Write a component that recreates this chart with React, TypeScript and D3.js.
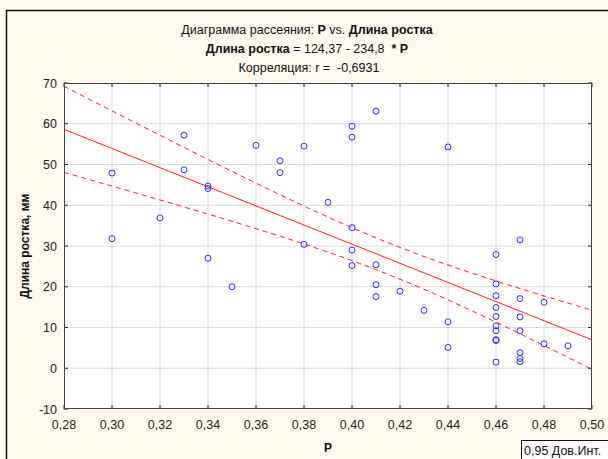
import React from "react"
import * as d3 from "d3"

// P values (x) and shoot length, mm (y)
const pValues = [
  0.30, 0.30, 0.32, 0.33, 0.33, 0.34, 0.34, 0.34, 0.35, 0.36, 0.37, 0.37, 0.38, 0.38, 0.39,
  0.40, 0.40, 0.40, 0.40, 0.40, 0.41, 0.41, 0.41, 0.41, 0.42, 0.43, 0.44, 0.44, 0.44,
  0.46, 0.46, 0.46, 0.46, 0.46, 0.46, 0.46, 0.46, 0.46, 0.46,
  0.47, 0.47, 0.47, 0.47, 0.47, 0.47, 0.47, 0.48, 0.48, 0.49,
]
const lengths = [
  47.9, 31.8, 36.9, 57.2, 48.7, 44.7, 44.1, 27.0, 20.0, 54.7, 50.9, 48.0, 54.5, 30.4, 40.7,
  59.4, 56.7, 34.5, 29.0, 25.2, 63.1, 25.4, 20.5, 17.6, 18.9, 14.2, 54.3, 11.4, 5.1,
  27.9, 20.7, 17.8, 14.9, 12.7, 10.4, 9.2, 7.0, 6.8, 1.5,
  31.5, 17.1, 12.6, 9.2, 3.8, 2.4, 1.6, 16.2, 6.0, 5.5,
]

const xTicks = [0.28, 0.3, 0.32, 0.34, 0.36, 0.38, 0.4, 0.42, 0.44, 0.46, 0.48, 0.5]
const yTicks = [-10, 0, 10, 20, 30, 40, 50, 60, 70]

// regression as printed in the title
const intercept = 124.37
const slope = -234.8

const W = 608
const H = 459
const plot = { left: 64, right: 592, top: 83, bottom: 409 }
const font = "'Liberation Sans', Arial, sans-serif"
const comma = (v: number, digits: number) => v.toFixed(digits).replace(".", ",")

export default function App() {
  const x = d3.scaleLinear().domain([0.28, 0.5]).range([plot.left, plot.right])
  const y = d3.scaleLinear().domain([-10, 70]).range([plot.bottom, plot.top])

  // 95% confidence band of the fitted mean
  const n = pValues.length
  const xm = d3.mean(pValues) as number
  const ym = d3.mean(lengths) as number
  const sxx = d3.sum(pValues, (v) => (v - xm) ** 2)
  const sxy = d3.sum(pValues, (v, i) => (v - xm) * (lengths[i] - ym))
  const b = sxy / sxx
  const a = ym - b * xm
  const sse = d3.sum(pValues, (v, i) => (lengths[i] - (a + b * v)) ** 2)
  const s = Math.sqrt(sse / (n - 2))
  const t = 2.012
  const grid = d3.range(0, 101).map((i) => 0.28 + (i / 100) * 0.22)
  const fit = (v: number) => intercept + slope * v
  const half = (v: number) => t * s * Math.sqrt(1 / n + (v - xm) ** 2 / sxx)

  const fitPath = d3.line<number>().x((v) => x(v)).y((v) => y(fit(v)))(grid) as string
  const upperPath = d3.line<number>().x((v) => x(v)).y((v) => y(fit(v) + half(v)))(grid) as string
  const lowerPath = d3.line<number>().x((v) => x(v)).y((v) => y(fit(v) - half(v)))(grid) as string

  const midX = (plot.left + plot.right) / 2
  const midY = (plot.top + plot.bottom) / 2

  return (
    <svg
      width={W}
      height={H}
      style={{ position: "absolute", left: 0, top: 0, fontFamily: font }}
    >
      <rect width={W} height={H} fill="#fff9ee" />
      <path d={`M6.5,${H} V10.5 H${W}`} fill="none" stroke="#111" strokeWidth={1.5} />

      {/* titles */}
      <text x={307} y={34} textAnchor="middle" fontSize={12.5} fill="#111" style={{ whiteSpace: "pre" }}>
        Диаграмма рассеяния: <tspan fontWeight="bold">P</tspan> vs. <tspan fontWeight="bold">Длина ростка</tspan>
      </text>
      <text x={307} y={53} textAnchor="middle" fontSize={12.5} fill="#111" style={{ whiteSpace: "pre" }}>
        <tspan fontWeight="bold">Длина ростка</tspan>
        {" = 124,37 - 234,8  "}
        <tspan fontWeight="bold">* P</tspan>
      </text>
      <text x={309} y={72} textAnchor="middle" fontSize={12.5} fill="#111" style={{ whiteSpace: "pre" }}>
        {"Корреляция: r =  -0,6931"}
      </text>

      {/* plot area */}
      <rect
        x={plot.left}
        y={plot.top}
        width={plot.right - plot.left}
        height={plot.bottom - plot.top}
        fill="#fff"
      />
      {xTicks.slice(1, -1).map((v) => (
        <line key={"gx" + v} x1={x(v)} x2={x(v)} y1={plot.top} y2={plot.bottom} stroke="#dadada" />
      ))}
      {yTicks.slice(1, -1).map((v) => (
        <line key={"gy" + v} x1={plot.left} x2={plot.right} y1={y(v)} y2={y(v)} stroke="#dadada" />
      ))}

      {/* tick marks inside the frame */}
      {xTicks.map((v) => (
        <g key={"tx" + v} stroke="#222">
          <line x1={x(v)} x2={x(v)} y1={plot.bottom} y2={plot.bottom - 4} />
          <line x1={x(v)} x2={x(v)} y1={plot.top} y2={plot.top + 4} />
        </g>
      ))}
      {yTicks.map((v) => (
        <g key={"ty" + v} stroke="#222">
          <line x1={plot.left} x2={plot.left + 4} y1={y(v)} y2={y(v)} />
          <line x1={plot.right} x2={plot.right - 4} y1={y(v)} y2={y(v)} />
        </g>
      ))}

      {/* fit and confidence band */}
      <path d={fitPath} fill="none" stroke="#ff1a1a" strokeWidth={1} />
      <path d={upperPath} fill="none" stroke="#ff1a1a" strokeWidth={1} strokeDasharray="5,4" />
      <path d={lowerPath} fill="none" stroke="#ff1a1a" strokeWidth={1} strokeDasharray="5,4" />

      {/* points */}
      {pValues.map((v, i) => (
        <circle key={i} cx={x(v)} cy={y(lengths[i])} r={3} fill="none" stroke="#2b2bff" strokeWidth={1} />
      ))}

      <rect
        x={plot.left + 0.5}
        y={plot.top + 0.5}
        width={plot.right - plot.left - 1}
        height={plot.bottom - plot.top - 1}
        fill="none"
        stroke="#444"
      />

      {/* tick labels */}
      {xTicks.map((v) => (
        <text key={"lx" + v} x={x(v)} y={429} textAnchor="middle" fontSize={12.5} fill="#222">
          {comma(v, 2)}
        </text>
      ))}
      {yTicks.map((v) => (
        <text key={"ly" + v} x={57} y={y(v) + 4.5} textAnchor="end" fontSize={12.5} fill="#222">
          {v}
        </text>
      ))}

      {/* axis titles */}
      <text x={midX} y={452} textAnchor="middle" fontSize={12} fontWeight="bold" fill="#111">
        P
      </text>
      <text
        transform={`translate(29,${midY}) rotate(-90)`}
        textAnchor="middle"
        fontSize={12}
        fontWeight="bold"
        fill="#111"
      >
        Длина ростка, мм
      </text>

      {/* legend */}
      <rect x={521.5} y={440.5} width={W - 521} height={H - 440} fill="#fff" stroke="#111" />
      <text x={524} y={455} fontSize={12.5} fill="#111">
        0,95 Дов.Инт.
      </text>
    </svg>
  )
}
